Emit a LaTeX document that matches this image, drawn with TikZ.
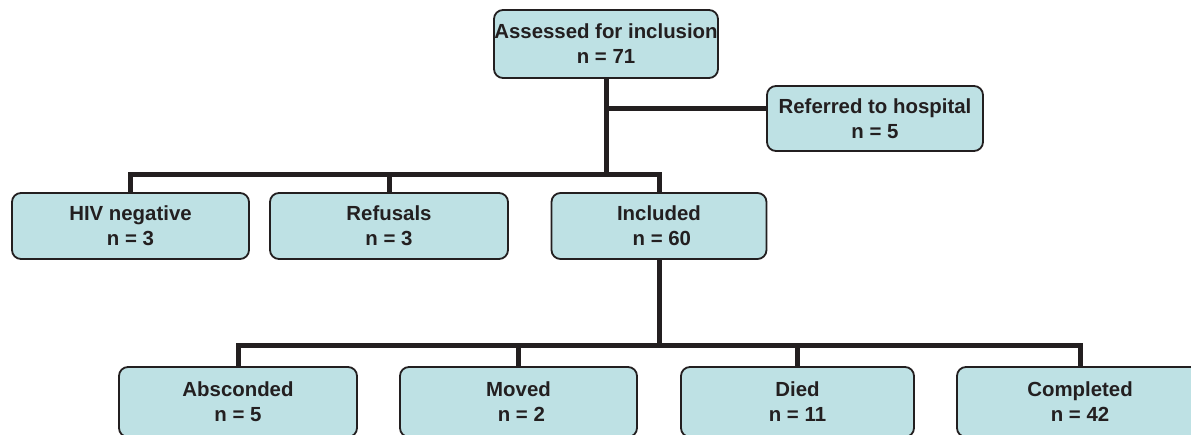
\documentclass[tikz,border=0pt]{standalone}
\usepackage{fontspec}
\setmainfont{Liberation Sans}
\definecolor{boxfill}{RGB}{190,225,228}
\definecolor{ink}{RGB}{35,31,32}
\tikzset{
	flowbox/.style={draw=ink,fill=boxfill,line width=1.8pt,rounded corners=9pt,inner sep=0pt,align=center,text=ink,font=\fontsize{20.4}{25}\selectfont\bfseries},
	link/.style={draw=ink,line width=5pt}
}
\begin{document}
\begin{tikzpicture}[x=1pt,y=-1pt]
			\useasboundingbox (0,0) rectangle (1191,434);
			% top
			\node[flowbox,minimum width=224pt,minimum height=68pt] (assessed) at (606,44) {Assessed for inclusion\\n = 71};
			\node[flowbox,minimum width=216pt,minimum height=65pt] (referred) at (875,118.5) {Referred to hospital\\n = 5};
			% second row
			\node[flowbox,minimum width=237pt,minimum height=66pt] (hivneg) at (130.5,226) {HIV negative\\n = 3};
			\node[flowbox,minimum width=238pt,minimum height=66pt] (refusals) at (389,226) {Refusals\\n = 3};
			\node[flowbox,minimum width=215pt,minimum height=66pt] (included) at (659,226) {Included\\\ n = 60};
			% last row (runs off the bottom edge)
			\node[flowbox,minimum width=238pt,minimum height=70pt] (absconded) at (238,402) {Absconded\\n = 5};
			\node[flowbox,minimum width=237pt,minimum height=70pt] (moved) at (518.5,402) {Moved\\\ n = 2};
			\node[flowbox,minimum width=233pt,minimum height=70pt] (died) at (797.5,402) {Died\\n = 11};
			\node[flowbox,minimum width=246pt,minimum height=70pt] (completed) at (1080,402) {Completed\\n = 42};
			% bars
			\coordinate (bar0) at (606,108);
			\coordinate (bar1) at (606,174);
			\coordinate (bar2) at (659,345);
			\draw[link] (assessed.south) -- (bar1);
			\draw[link] (bar0) -- (bar0 -| referred.west);
			\draw[link] (hivneg.north) -- (hivneg.north |- bar1) -| (included.north);
			\draw[link] (refusals.north) -- (refusals.north |- bar1);
			\draw[link] (included.south) -- (bar2);
			\draw[link] (absconded.north) -- (absconded.north |- bar2) -| (completed.north);
			\draw[link] (moved.north) -- (moved.north |- bar2);
			\draw[link] (died.north) -- (died.north |- bar2);
		\end{tikzpicture}
\end{document}
